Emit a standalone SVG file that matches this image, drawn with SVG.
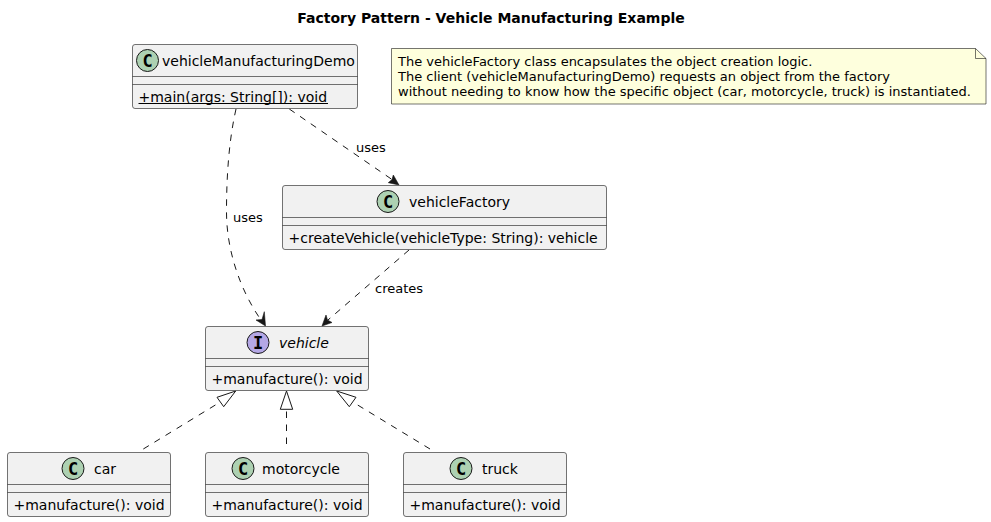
<svg xmlns="http://www.w3.org/2000/svg" width="991" height="522" viewBox="0 0 991 522">
<style>
text{font-family:"DejaVu Sans",sans-serif;font-size:14px;fill:#000}
.box{fill:#F1F1F1;stroke:#181818;stroke-width:.6}
.sep{stroke:#181818;stroke-width:.6;fill:none}
.spot{fill:#ADD1B2;stroke:#181818;stroke-width:1}
.ispot{fill:#B4A7E5;stroke:#181818;stroke-width:1}
.glyph{font-family:"DejaVu Sans Mono",monospace;font-weight:bold;font-size:17px;text-anchor:middle}
.lab{font-size:13px}
.note{font-size:13px}
.c{fill:none;stroke:#181818;stroke-width:1;stroke-dasharray:6.5 6.5}
.h{fill:#181818;stroke:#181818;stroke-width:.6;stroke-linejoin:round}
.t{fill:none;stroke:#181818;stroke-width:1}
</style>
<text x="491" y="23" text-anchor="middle" style="font-weight:bold">Factory Pattern - Vehicle Manufacturing Example</text>
<g id="connectors">
<path class="c" d="M236,109C229,140 226.5,175 226.5,212C226.5,250 240,290 261,320"/>
<path class="h" d="M265.5,326L256,320L262,319.5L264.3,311.7Z"/>
<path class="c" d="M289.3,109L392,179.5"/>
<path class="h" d="M399,185L388.3,182.7L392,179.5L393.3,175Z"/>
<path class="c" d="M409,250L328,320"/>
<path class="h" d="M322,326L326,315L327.5,320L332,322.5Z"/>
<path class="c" d="M143.3,449L220.3,402"/>
<path class="t" d="M235.7,391L217,397.3L223.7,406.7Z"/>
<path class="c" d="M286.5,444V409.3"/>
<path class="t" d="M286.5,391L280.3,409.3H292.7Z"/>
<path class="c" d="M430,449L352.7,402"/>
<path class="t" d="M336.7,391L349.3,406.7L356,397.3Z"/>
<text class="lab" x="356" y="152">uses</text>
<text class="lab" x="233" y="222">uses</text>
<text class="lab" x="375" y="293">creates</text>
</g>
<g id="note">
<path d="M391.5,48.5H975.5L986,58.5V104H391.5Z" fill="#FEFFDD" stroke="#181818" stroke-width=".6"/>
<path d="M975.5,48.5V58.5H986" fill="none" stroke="#181818" stroke-width=".6"/>
<text class="note" x="398" y="66">The vehicleFactory class encapsulates the object creation logic.</text>
<text class="note" x="398" y="81">The client (vehicleManufacturingDemo) requests an object from the factory</text>
<text class="note" x="398" y="96">without needing to know how the specific object (car, motorcycle, truck) is instantiated.</text>
</g>
<g id="vehicleManufacturingDemo">
<rect class="box" x="132.5" y="44.5" width="225" height="64" rx="2.5"/>
<path class="sep" d="M132.5,76.5H357.5M132.5,84.5H357.5"/>
<circle class="spot" cx="147.5" cy="60.5" r="11"/>
<text class="glyph" x="147.5" y="66.5">C</text>
<text x="162" y="65.5">vehicleManufacturingDemo</text>
<text x="138.5" y="101.5">+main(args: String[]): void</text>
<path d="M138.5,103.5H328" stroke="#000" stroke-width="1" fill="none"/>
</g>
<g id="vehicleFactory">
<rect class="box" x="282.5" y="185.5" width="324" height="64" rx="2.5"/>
<path class="sep" d="M282.5,217.5H606.5M282.5,225.5H606.5"/>
<circle class="spot" cx="388" cy="201.5" r="11"/>
<text class="glyph" x="388" y="207.5">C</text>
<text x="409" y="206.5">vehicleFactory</text>
<text x="288.5" y="242.5">+createVehicle(vehicleType: String): vehicle</text>
</g>
<g id="vehicle">
<rect class="box" x="205.5" y="326.5" width="163" height="64" rx="2.5"/>
<path class="sep" d="M205.5,358.5H368.5M205.5,366.5H368.5"/>
<circle class="ispot" cx="258" cy="342.5" r="11"/>
<text class="glyph" x="258" y="348.5">I</text>
<text x="279" y="347.5" font-style="italic">vehicle</text>
<text x="211.5" y="383.5">+manufacture(): void</text>
</g>
<g id="car">
<rect class="box" x="7.5" y="452.5" width="163" height="64" rx="2.5"/>
<path class="sep" d="M7.5,484.5H170.5M7.5,492.5H170.5"/>
<circle class="spot" cx="73" cy="468.5" r="11"/>
<text class="glyph" x="73" y="474.5">C</text>
<text x="94" y="473.5">car</text>
<text x="13.5" y="509.5">+manufacture(): void</text>
</g>
<g id="motorcycle">
<rect class="box" x="205.5" y="452.5" width="163" height="64" rx="2.5"/>
<path class="sep" d="M205.5,484.5H368.5M205.5,492.5H368.5"/>
<circle class="spot" cx="243" cy="468.5" r="11"/>
<text class="glyph" x="243" y="474.5">C</text>
<text x="262" y="473.5">motorcycle</text>
<text x="211.5" y="509.5">+manufacture(): void</text>
</g>
<g id="truck">
<rect class="box" x="403.5" y="452.5" width="163" height="64" rx="2.5"/>
<path class="sep" d="M403.5,484.5H566.5M403.5,492.5H566.5"/>
<circle class="spot" cx="461" cy="468.5" r="11"/>
<text class="glyph" x="461" y="474.5">C</text>
<text x="482" y="473.5">truck</text>
<text x="409.5" y="509.5">+manufacture(): void</text>
</g>
</svg>
